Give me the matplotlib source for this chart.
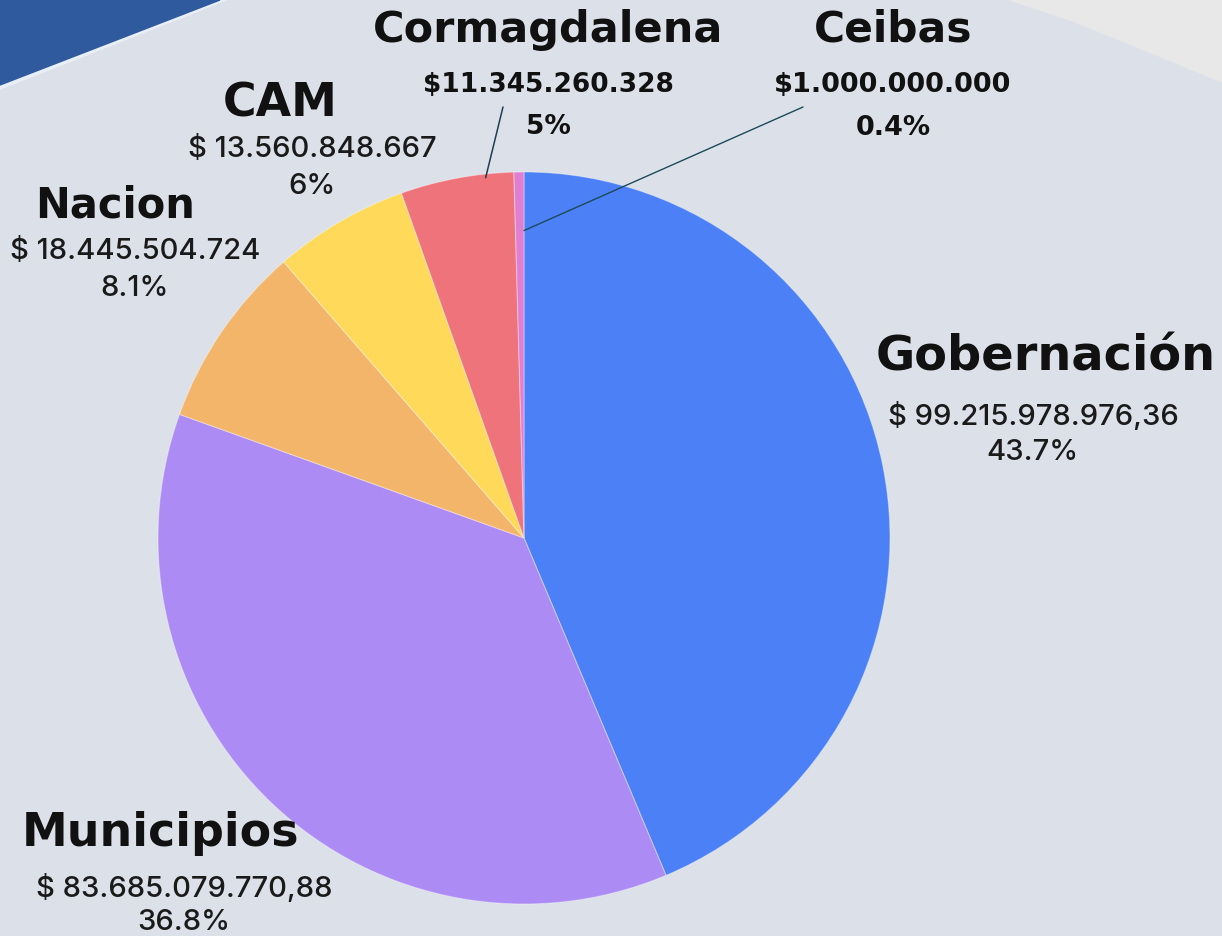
import numpy as np
import matplotlib
matplotlib.use("Agg")
import matplotlib.pyplot as plt
from matplotlib.patches import Polygon

# -------------------------------
# Data
# -------------------------------
names = ["Gobernación", "Municipios", "Nacion", "CAM", "Cormagdalena", "Ceibas"]
amounts = [99215978976.36, 83685079770.88, 18445504724, 13560848667, 11345260328, 1000000000]
amount_labels = ["$ 99.215.978.976,36", "$ 83.685.079.770,88", "$ 18.445.504.724",
                 "$ 13.560.848.667", "$11.345.260.328", "$1.000.000.000"]
pct_labels = ["43.7%", "36.8%", "8.1%", "6%", "5%", "0.4%"]
colors = ["#4b80f6", "#ad8bf4", "#f3b56a", "#fed95a", "#ef737b", "#e07fd2"]

W, H = 1222, 936


def Y(py):
    # pixel row (from top) -> data y
    return H - py


fig = plt.figure(figsize=(W / 100, H / 100), dpi=100)
fig.patch.set_facecolor("#dce1e9")
ax = fig.add_axes([0, 0, 1, 1])
ax.set_facecolor("#dce1e9")

# background decoration: blue corner with a pale rim, light top-right area
ax.add_patch(Polygon([(0, Y(0)), (226, Y(0)), (0, Y(89))],
                     closed=True, color="#e9eff7", zorder=0))
ax.add_patch(Polygon([(0, Y(0)), (220, Y(0)), (0, Y(85))],
                     closed=True, color="#2f5a9e", zorder=0))
ax.add_patch(Polygon([(1010, Y(0)), (1070, Y(20)), (1120, Y(40)), (1222, Y(82)), (W, Y(0))],
                     closed=True, color="#e8e8e9", zorder=0))

# -------------------------------
# Pie
# -------------------------------
cx, cy, R = 524, Y(538), 366
wedges, _ = ax.pie(amounts, colors=colors, startangle=90, counterclock=False,
                   center=(cx, cy), radius=R, frame=True,
                   wedgeprops=dict(linewidth=0.8, edgecolor=(1, 1, 1, 0.35)))

ax.set_xlim(0, W)
ax.set_ylim(0, H)
ax.set_aspect("equal")
ax.axis("off")

head_font = dict(family="DejaVu Sans", fontweight="bold", color="#111111",
                 ha="center", va="center")
val_font = dict(family="Inter", fontweight="medium", color="#1a1a1a",
                ha="center", va="center")
valb_font = dict(family="DejaVu Sans", fontweight="bold", color="#111111",
                 ha="center", va="center")

# (name x, name y, name size, value x, value y, pct y, value size, bold values)
layout = {
    "Gobernación": (1046, 357, 34.5, 1033, 416, 453, 21, False),
    "Municipios": (160, 833, 33, 184, 888, 922, 21, False),
    "Nacion": (115, 206, 30, 135, 251, 288, 21, False),
    "CAM": (280, 104, 33, 312, 150, 187, 21, False),
    "Cormagdalena": (548, 30, 31, 548, 85, 127, 19, True),
    "Ceibas": (893, 30, 30.5, 893, 85, 128, 19.5, True),
}

for i, name in enumerate(names):
    nx, ny, ns, vx, vy, py, vs, bold = layout[name]
    ax.text(nx, Y(ny), name, fontsize=ns, **head_font)
    f = valb_font if bold else val_font
    ax.text(vx, Y(vy), amount_labels[i], fontsize=vs, **f)
    ax.text(vx, Y(py), pct_labels[i], fontsize=vs, **f)


# leader lines for the two thin wedges
def wedge_point(w, frac, rfrac):
    a = np.deg2rad(w.theta1 + frac * (w.theta2 - w.theta1))
    return cx + rfrac * R * np.cos(a), cy + rfrac * R * np.sin(a)


ax.annotate("", xy=wedge_point(wedges[4], 0.25, 0.99), xytext=(503, Y(107)),
            arrowprops=dict(arrowstyle="-", color="#1d3f52", lw=1.1,
                            shrinkA=0, shrinkB=0))
ax.annotate("", xy=wedge_point(wedges[5], 0.0, 0.84), xytext=(803, Y(107)),
            arrowprops=dict(arrowstyle="-", color="#1d4a5a", lw=1.0,
                            shrinkA=0, shrinkB=0))

fig.savefig("out.png", dpi=100, facecolor=fig.get_facecolor())
